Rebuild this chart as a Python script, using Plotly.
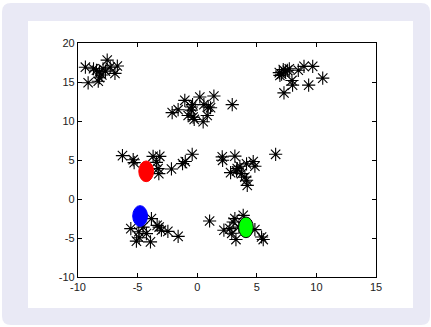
import plotly.graph_objects as go

# cluster points (x, y)
pts_x = [
    -9.38, -9.15, -8.3, -8.2, -8.0, -8.45, -8.7, -7.55, -7.3, -6.9, -6.7, -7.9, -8.2, -7.7,
    -2.1, -1.6, -1.04, -0.48, 0.22, 1.4, -0.34, -0.25, 0.5, 0.84, 0.92, 1.12, -0.76, -0.5, -0.39, 2.94, 0.56,
    6.89, 7.08, 7.22, 7.56, 7.73, 7.95, 8.0, 7.28, 8.48, 8.96, 9.69, 9.35, 10.53, 6.94, 7.4,
    -6.27, -5.37, -5.29, -3.7, -3.14, -3.28, -3.22, -3.42, -2.16, -1.23, -1.0, -0.42,
    2.1, 2.13, 3.16, 2.8, 3.36, 3.58, 4.14, 4.7, 4.84, 3.72, 4.0, 4.14, 4.2, 3.3, 6.58,
    -5.57, -5.1, -4.87, -3.92, -3.84, -4.54, -4.26, -3.36, -3.19, -3.0, -2.46, -1.6, -4.9,
    1.04, 2.24, 2.74, 3.02, 3.16, 3.25, 3.86, 4.84, 5.4, 5.54, 2.9, 3.5,
]
pts_y = [
    16.9, 14.9, 15.1, 16.3, 15.9, 16.5, 16.7, 17.8, 16.9, 16.1, 17.05, 16.7, 15.55, 16.4,
    11.07, 11.45, 12.65, 11.8, 13.08, 13.2, 10.5, 10.2, 9.9, 10.7, 11.8, 11.7, 10.7, 11.4, 12.1, 12.1, 12.1,
    16.2, 16.0, 16.6, 16.5, 16.7, 15.2, 14.6, 13.6, 16.5, 17.0, 17.0, 14.6, 15.5, 15.85, 16.3,
    5.56, 5.04, 4.66, 5.47, 5.47, 3.9, 3.25, 4.7, 3.85, 4.53, 4.8, 5.73,
    5.4, 4.96, 5.5, 3.38, 3.9, 4.2, 4.5, 4.8, 4.2, 3.25, 2.8, 2.4, 1.75, 3.6, 5.73,
    -3.8, -5.4, -4.96, -5.5, -2.52, -3.6, -4.44, -3.38, -3.6, -4.0, -4.15, -4.79, -4.2,
    -2.82, -4.0, -3.8, -2.95, -2.52, -5.2, -2.1, -3.93, -4.87, -5.2, -4.4, -3.6,
]

# centroids
cent_x = [-4.28, -4.79, 4.09]
cent_y = [3.55, -2.18, -3.63]
cent_fill = ["#ff0000", "#0000ff", "#00ff00"]
cent_line = ["#ff0000", "#0000ff", "#000000"]

x_ticks = [-10, -5, 0, 5, 10, 15]
y_ticks = [-10, -5, 0, 5, 10, 15, 20]

W, H = 431, 327
L, R, T, B = 78, 376, 43, 277


def px2paper(px, py):
    return (px - L) / (R - L), (B - py) / (B - T)


def rounded_rect_path(x0, y0, x1, y1, r):
    def P(px, py):
        a, b = px2paper(px, py)
        return f"{a:.5f},{b:.5f}"
    return (f"M {P(x0 + r, y0)} L {P(x1 - r, y0)} Q {P(x1, y0)} {P(x1, y0 + r)} "
            f"L {P(x1, y1 - r)} Q {P(x1, y1)} {P(x1 - r, y1)} "
            f"L {P(x0 + r, y1)} Q {P(x0, y1)} {P(x0, y1 - r)} "
            f"L {P(x0, y0 + r)} Q {P(x0, y0)} {P(x0 + r, y0)} Z")


shapes = [
    dict(type="path", xref="paper", yref="paper", layer="below",
         path=rounded_rect_path(2, 3, 430, 325, 9),
         fillcolor="#e9e9f5", line=dict(width=0)),
]
wx0, wy0 = px2paper(28, 21)
wx1, wy1 = px2paper(413, 308)
shapes.append(dict(type="rect", xref="paper", yref="paper", layer="below",
                   x0=wx0, x1=wx1, y0=wy1, y1=wy0,
                   fillcolor="#ffffff", line=dict(width=0)))

# ellipse half sizes in data units (approx 7.5 px by 10.5 px)
rx, ry = 0.62, 1.33
for cx, cy, fc, lc in zip(cent_x, cent_y, cent_fill, cent_line):
    shapes.append(dict(type="circle", xref="x", yref="y", layer="above",
                       x0=cx - rx, x1=cx + rx, y0=cy - ry, y1=cy + ry,
                       fillcolor=fc, line=dict(color=lc, width=1)))

fig = go.Figure()
fig.add_trace(go.Scatter(
    x=pts_x, y=pts_y, mode="markers",
    marker=dict(symbol="asterisk-open", size=11, color="#000000",
                line=dict(color="#000000", width=1.1)),
    showlegend=False, hoverinfo="skip",
))

axis_common = dict(
    showgrid=False, zeroline=False, showline=True, linecolor="#000000",
    linewidth=1.3, mirror="ticks", ticks="inside", ticklen=4,
    tickcolor="#000000", tickfont=dict(family="Liberation Sans Narrow, Liberation Sans, Arial",
                                       size=11, color="#222222"),
)

fig.update_layout(
    width=W, height=H,
    margin=dict(l=L, r=W - R, t=T, b=H - B, pad=0),
    paper_bgcolor="#ffffff", plot_bgcolor="#ffffff",
    shapes=shapes,
    xaxis=dict(range=[-10, 15], tickvals=x_ticks, ticktext=[str(v) for v in x_ticks], **axis_common),
    yaxis=dict(range=[-10, 20], tickvals=y_ticks, ticktext=[str(v) for v in y_ticks], **axis_common),
)

fig.write_html("out.html", config={"displayModeBar": False},
               post_script="document.body.style.margin='0';document.body.style.padding='0';")
